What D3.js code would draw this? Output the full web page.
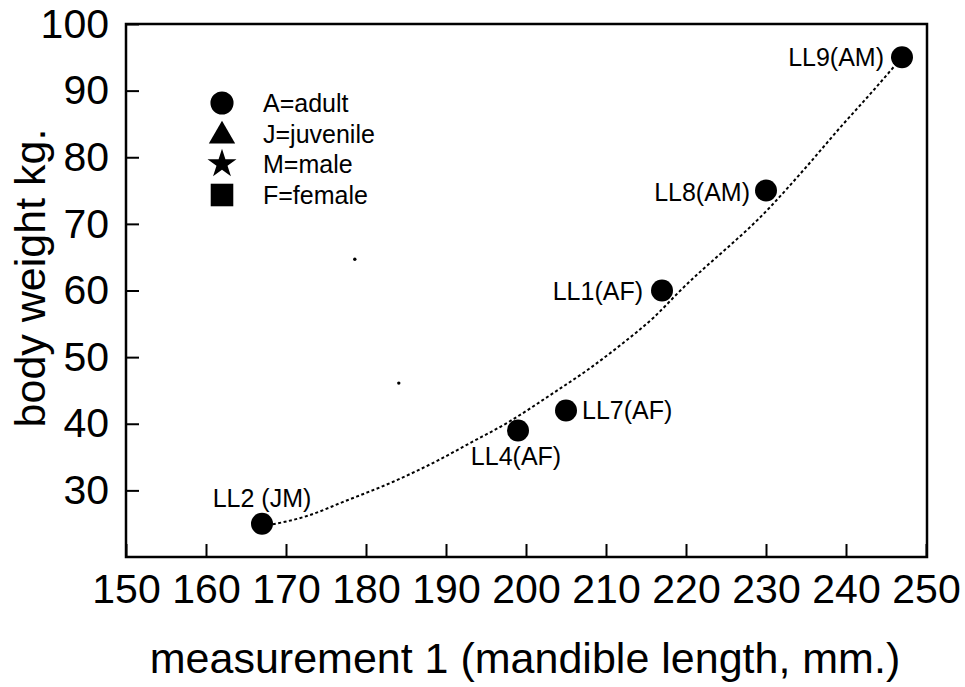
<!DOCTYPE html>
<html>
<head>
<meta charset="utf-8">
<script src="https://cdn.jsdelivr.net/npm/d3@7"></script>
<style>
  body { margin: 0; background: #fff; }
  svg text { font-family: "Liberation Sans", Arial, sans-serif; fill: #000; }
</style>
</head>
<body>
<div id="viz"></div>
<script>
// specimens
var names = ['LL2 (JM)', 'LL4(AF)', 'LL7(AF)', 'LL1(AF)', 'LL8(AM)', 'LL9(AM)'];
var mandible = [167, 199, 205, 217, 230, 247];
var weight = [25, 39, 42, 60, 75, 95];

// two tiny stray points
var strayX = [178.6, 184.1];
var strayY = [64.7, 46.1];

// dotted trend curve
var trendX = [167, 173, 177, 183.4, 189, 193, 197.6, 203.4, 207.6, 211.8, 216, 219.3, 230.5, 235, 239.3, 243.4, 247];
var trendY = [24.6, 26.3, 28.2, 31.3, 34.5, 37.1, 40.1, 44.6, 48, 51.8, 56, 60, 72.5, 78.5, 84.5, 90, 95];

var xTicks = [150, 160, 170, 180, 190, 200, 210, 220, 230, 240, 250];
var yTicks = [30, 40, 50, 60, 70, 80, 90, 100];

var legendLabels = ['A=adult', 'J=juvenile', 'M=male', 'F=female'];

// label placement (px offsets from the marker)
var labelPos = [
  {dx: 0, dy: -17, anchor: 'middle'},
  {dx: -2, dy: 35, anchor: 'middle'},
  {dx: 16, dy: 9, anchor: 'start'},
  {dx: -19, dy: 9, anchor: 'end'},
  {dx: -16, dy: 10, anchor: 'end'},
  {dx: -18, dy: 9, anchor: 'end'}
];

var W = 965, H = 687;
var L = 126, R = 927, T = 24, B = 557;

var svg = d3.select('#viz').append('svg')
    .attr('width', W)
    .attr('height', H);

var x = d3.scaleLinear().domain([150, 250]).range([L, R - 1]);
var y = d3.scaleLinear().domain([20, 100]).range([B, T]);

// axes with inward ticks
var xAxis = svg.append('g')
    .attr('transform', 'translate(0,' + B + ')')
    .call(d3.axisBottom(x).tickValues(xTicks).tickSize(-13).tickPadding(17).tickFormat(d3.format('d')));
var yAxis = svg.append('g')
    .attr('transform', 'translate(' + L + ',0)')
    .call(d3.axisLeft(y).tickValues(yTicks).tickSize(-13).tickPadding(17).tickFormat(d3.format('d')));

[xAxis, yAxis].forEach(function(a){
  a.select('.domain').remove();
  a.selectAll('line').attr('stroke', '#000').attr('stroke-width', 2);
  a.selectAll('text').style('font-size', '41px').attr('fill', '#000');
});

// frame
svg.append('rect')
    .attr('x', L).attr('y', T)
    .attr('width', R - L).attr('height', B - T)
    .attr('fill', 'none')
    .attr('stroke', '#000')
    .attr('stroke-width', 2.5);

// trend line
var line = d3.line()
    .x(function(d){ return x(d[0]); })
    .y(function(d){ return y(d[1]); })
    .curve(d3.curveMonotoneX);
svg.append('path')
    .datum(d3.zip(trendX, trendY))
    .attr('d', line)
    .attr('fill', 'none')
    .attr('stroke', '#000')
    .attr('stroke-width', 2)
    .attr('stroke-dasharray', '3,2.5');

// stray dots
svg.selectAll('.stray')
    .data(d3.zip(strayX, strayY))
    .enter().append('circle')
    .attr('class', 'stray')
    .attr('cx', function(d){ return x(d[0]); })
    .attr('cy', function(d){ return y(d[1]); })
    .attr('r', 1.7)
    .attr('fill', '#000');

// specimen markers
svg.selectAll('.pt')
    .data(d3.range(names.length))
    .enter().append('circle')
    .attr('class', 'pt')
    .attr('cx', function(i){ return x(mandible[i]); })
    .attr('cy', function(i){ return y(weight[i]); })
    .attr('r', 11)
    .attr('fill', '#000');

svg.selectAll('.lbl')
    .data(d3.range(names.length))
    .enter().append('text')
    .attr('class', 'lbl')
    .attr('x', function(i){ return x(mandible[i]) + labelPos[i].dx; })
    .attr('y', function(i){ return y(weight[i]) + labelPos[i].dy; })
    .attr('text-anchor', function(i){ return labelPos[i].anchor; })
    .style('font-size', '25px')
    .text(function(i){ return names[i]; });

// legend
var symbols = [
  d3.symbol().type(d3.symbolCircle).size(420),
  d3.symbol().type(d3.symbolTriangle).size(300),
  d3.symbol().type(d3.symbolStar).size(260),
  d3.symbol().type(d3.symbolSquare).size(510)
];
var legendY = [103, 134, 164, 195];
var lg = svg.append('g');
legendLabels.forEach(function(t, i){
  lg.append('path')
      .attr('d', symbols[i]())
      .attr('transform', 'translate(222,' + (legendY[i] + (i == 1 ? 2 : 0)) + ')')
      .attr('fill', '#000');
  lg.append('text')
      .attr('x', 263)
      .attr('y', legendY[i] + 9)
      .style('font-size', '25px')
      .text(t);
});

// axis titles
svg.append('text')
    .attr('x', 525)
    .attr('y', 673)
    .attr('text-anchor', 'middle')
    .style('font-size', '43px')
    .text('measurement 1 (mandible length, mm.)');

svg.append('text')
    .attr('transform', 'translate(45,278) rotate(-90)')
    .attr('text-anchor', 'middle')
    .style('font-size', '43px')
    .text('body weight kg.');
</script>
</body>
</html>
